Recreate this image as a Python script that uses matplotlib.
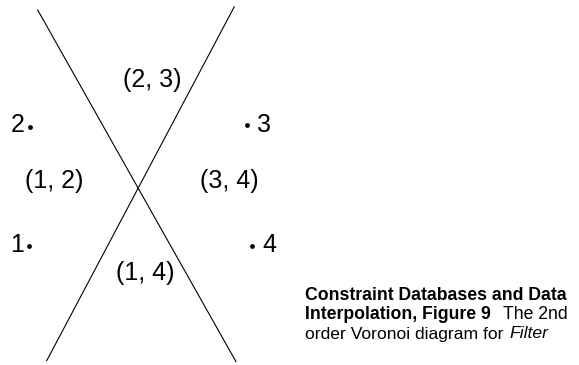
import matplotlib
matplotlib.use("Agg")
import matplotlib.pyplot as plt

# Bisektoren (Endpunkte)
line_a_x = [37.7, 236.0]
line_a_y = [10.0, 361.7]
line_b_x = [234.3, 46.7]
line_b_y = [6.7, 360.7]

# Punkte
site_names = ["1", "2", "3", "4"]
site_x = [29.3, 30.0, 247.3, 252.3]
site_y = [245.7, 126.7, 125.0, 245.7]
site_side = ["left", "left", "right", "right"]
site_base = [251.7, 131.7, 131.7, 251.7]

# Regionen
region_labels = ["(2, 3)", "(1, 2)", "(3, 4)", "(1, 4)"]
region_x = [152.2, 53.8, 229.2, 144.8]
region_y = [87.5, 188.3, 188.3, 280.0]

fig = plt.figure(figsize=(5.79, 3.65), dpi=100)
ax = fig.add_axes([0, 0, 1, 1])
ax.set_xlim(0, 579)
ax.set_ylim(365, 0)
ax.axis("off")

ax.plot(line_a_x, line_a_y, color="black", lw=0.8)
ax.plot(line_b_x, line_b_y, color="black", lw=0.8)
ax.scatter(site_x, site_y, s=12, color="black", zorder=3, linewidths=0)

for name, x, y, side in zip(site_names, site_x, site_base, site_side):
    if side == "left":
        ax.text(x - 5, y, name, ha="right", va="baseline", fontsize=18, family="Liberation Sans")
    else:
        ax.text(x + 10, y, name, ha="left", va="baseline", fontsize=18, family="Liberation Sans")

for lab, x, y in zip(region_labels, region_x, region_y):
    ax.text(x, y, lab, ha="center", va="baseline", fontsize=18, family="Liberation Sans")

# Bildunterschrift
cap = dict(family="Liberation Sans", va="baseline")
ax.text(305, 300, "Constraint Databases and Data", fontsize=12.7, weight="bold", **cap)
ax.text(305, 319.3, "Interpolation, Figure 9", fontsize=12.7, weight="bold", **cap)
ax.text(568, 319.3, "The 2nd", fontsize=12.7, ha="right", **cap)
ax.text(305, 338.5, "order Voronoi diagram for", fontsize=12.6, **cap)
ax.text(548, 338.5, "Filter", fontsize=12.6, style="italic", ha="right", **cap)

fig.savefig("out.png", dpi=100)
